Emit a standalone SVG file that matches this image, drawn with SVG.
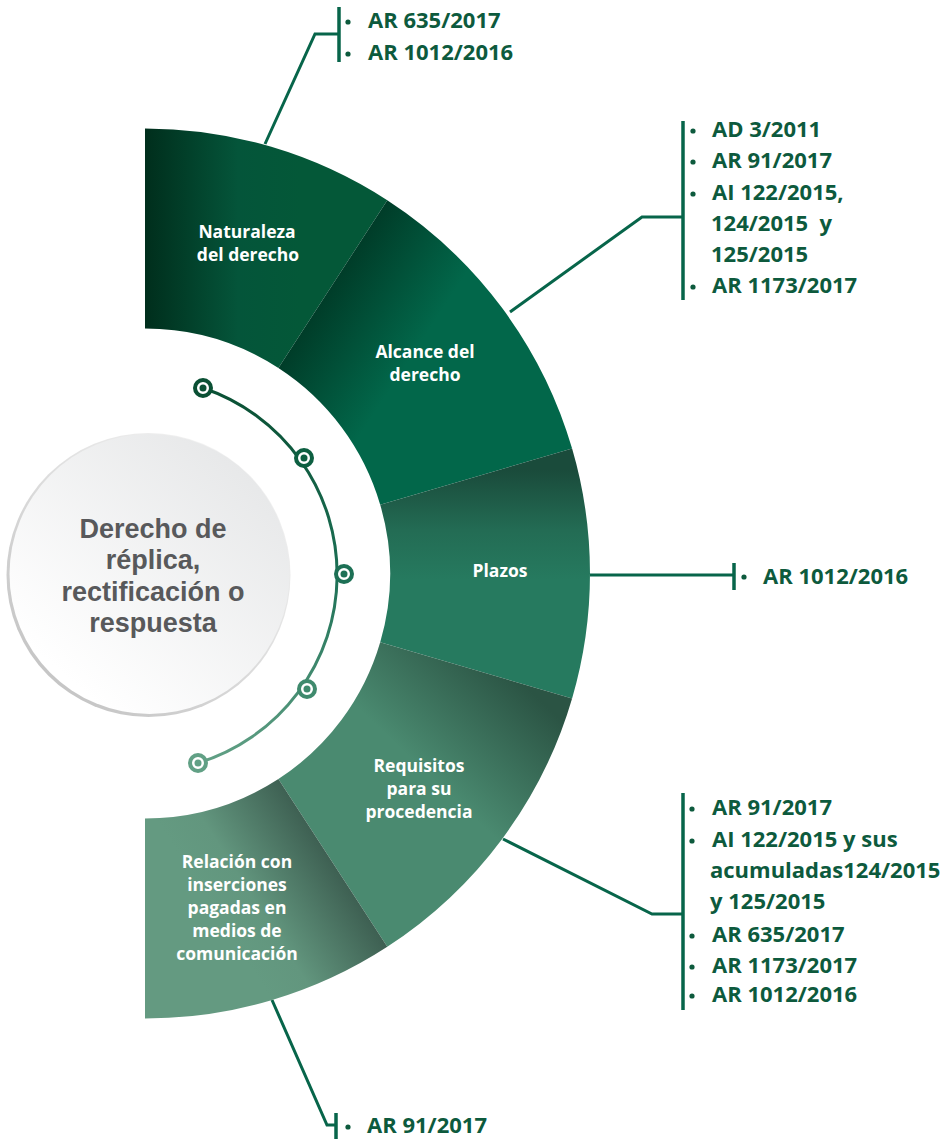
<svg xmlns="http://www.w3.org/2000/svg" width="947" height="1139" viewBox="0 0 947 1139">
<defs>
<style>
.lbl{font-family:"Open Sans","Liberation Sans",sans-serif;font-weight:700;font-size:17.5px;fill:#ffffff;text-anchor:middle}
.ref{font-family:"Open Sans","Liberation Sans",sans-serif;font-weight:700;font-size:22px;fill:#0d5a3d}
.title{font-family:"Liberation Sans","Open Sans",sans-serif;font-weight:700;font-size:27px;fill:#58595b;text-anchor:middle}
.conn{fill:none;stroke:#07654a;stroke-width:3}
.bar{fill:none;stroke:#07654a;stroke-width:3.5}
.bul{fill:#0d5a3d}
</style>
<linearGradient id="gNat" gradientUnits="userSpaceOnUse" x1="145" y1="250" x2="300" y2="250">
<stop offset="0" stop-color="#002e1c"/><stop offset="0.6" stop-color="#04553a"/><stop offset="1" stop-color="#045838"/>
</linearGradient>
<linearGradient id="gAlc" gradientUnits="userSpaceOnUse" x1="330" y1="285" x2="420" y2="344">
<stop offset="0" stop-color="#003c28"/><stop offset="1" stop-color="#02674a"/>
</linearGradient>
<linearGradient id="gPla" gradientUnits="userSpaceOnUse" x1="480" y1="470" x2="480" y2="580">
<stop offset="0" stop-color="#1a4b3b"/><stop offset="0.55" stop-color="#236c54"/><stop offset="1" stop-color="#267a5f"/>
</linearGradient>
<linearGradient id="gReq" gradientUnits="userSpaceOnUse" x1="545" y1="705" x2="455" y2="800">
<stop offset="0" stop-color="#2b5444"/><stop offset="1" stop-color="#4a8a70"/>
</linearGradient>
<linearGradient id="gRel" gradientUnits="userSpaceOnUse" x1="340" y1="865" x2="230" y2="935">
<stop offset="0" stop-color="#3c5d50"/><stop offset="0.7" stop-color="#62967e"/><stop offset="1" stop-color="#649a81"/>
</linearGradient>
<linearGradient id="gArc" gradientUnits="userSpaceOnUse" x1="0" y1="388" x2="0" y2="763">
<stop offset="0" stop-color="#0a5034"/><stop offset="0.5" stop-color="#1c7055"/><stop offset="1" stop-color="#61a085"/>
</linearGradient>
<linearGradient id="gCirRim" gradientUnits="userSpaceOnUse" x1="50" y1="690" x2="250" y2="460">
<stop offset="0" stop-color="#c4c4c4"/><stop offset="1" stop-color="#f4f4f4"/>
</linearGradient>
<linearGradient id="gCir" gradientUnits="userSpaceOnUse" x1="70" y1="680" x2="250" y2="470">
<stop offset="0" stop-color="#ffffff"/><stop offset="1" stop-color="#e7e8e9"/>
</linearGradient>
</defs>
<rect width="947" height="1139" fill="#ffffff"/>

<g id="connectors">
<path class="conn" d="M265,144 L315,34 L339,34"/>
<path class="bar" d="M339,7 V62"/>
<path class="conn" d="M510,312 L642,217 L683,217"/>
<path class="bar" d="M683,121 V300"/>
<path class="conn" d="M590,575 L734,575"/>
<path class="bar" d="M734,563 V590"/>
<path class="conn" d="M503,839 L652,914 L683,914"/>
<path class="bar" d="M683,793 V1010"/>
<path class="conn" d="M272,1000 L327,1125 L336,1125"/>
<path class="bar" d="M336,1113 V1139"/>
</g>

<g id="seg-naturaleza">
<path d="M145,128.5 A445,445 0 0 1 387.3,200.3 L278.4,368 A245,245 0 0 0 145,328.5 Z" fill="url(#gNat)"/>
<text class="lbl" x="247" y="238">Naturaleza</text>
<text class="lbl" x="248" y="261">del derecho</text>
</g>
<g id="seg-alcance">
<path d="M387.3,200.3 A445,445 0 0 1 572.1,448.6 L380.2,504.7 A245,245 0 0 0 278.4,368 Z" fill="url(#gAlc)"/>
<text class="lbl" x="425" y="358">Alcance del</text>
<text class="lbl" x="425" y="381">derecho</text>
</g>
<g id="seg-plazos">
<path d="M572.1,448.6 A445,445 0 0 1 572.1,698.4 L380.2,642.3 A245,245 0 0 0 380.2,504.7 Z" fill="url(#gPla)"/>
<text class="lbl" x="500" y="577">Plazos</text>
</g>
<g id="seg-requisitos">
<path d="M572.1,698.4 A445,445 0 0 1 387.3,946.7 L278.4,779 A245,245 0 0 0 380.2,642.3 Z" fill="url(#gReq)"/>
<text class="lbl" x="419" y="772">Requisitos</text>
<text class="lbl" x="419" y="795">para su</text>
<text class="lbl" x="419" y="818">procedencia</text>
</g>
<g id="seg-relacion">
<path d="M387.3,946.7 A445,445 0 0 1 145,1018.5 L145,818.5 A245,245 0 0 0 278.4,779 Z" fill="url(#gRel)"/>
<text class="lbl" x="237" y="868">Relación con</text>
<text class="lbl" x="237" y="891">inserciones</text>
<text class="lbl" x="237" y="914">pagadas en</text>
<text class="lbl" x="237" y="937">medios de</text>
<text class="lbl" x="237" y="960">comunicación</text>
</g>

<g id="center">
<circle cx="148.5" cy="575" r="142" fill="url(#gCirRim)"/>
<circle cx="149.5" cy="574" r="140" fill="url(#gCir)"/>
<text class="title" x="153" y="538">Derecho de</text>
<text class="title" x="153" y="569">réplica,</text>
<text class="title" x="153" y="601">rectificación o</text>
<text class="title" x="153" y="632">respuesta</text>
</g>

<g id="timeline">
<path d="M203,388 A197,197 0 0 1 198,763" fill="none" stroke="url(#gArc)" stroke-width="3"/>
<g stroke-width="4" fill="#ffffff">
<circle cx="203" cy="388" r="8" stroke="#0a5034"/>
<circle cx="304" cy="458" r="8" stroke="#0d5f41"/>
<circle cx="344" cy="574" r="8" stroke="#1d7055"/>
<circle cx="307" cy="689" r="8" stroke="#3f8a6d"/>
<circle cx="198" cy="763" r="8" stroke="#61a085"/>
</g>
<circle cx="203" cy="388" r="3.5" fill="#0a5034"/>
<circle cx="304" cy="458" r="3.5" fill="#0d5f41"/>
<circle cx="344" cy="574" r="3.5" fill="#1d7055"/>
<circle cx="307" cy="689" r="3.5" fill="#3f8a6d"/>
<circle cx="198" cy="763" r="3.5" fill="#61a085"/>
</g>

<g id="refs-naturaleza">
<circle class="bul" cx="348" cy="22" r="2.6"/>
<circle class="bul" cx="348" cy="54" r="2.6"/>
<text class="ref" x="368" y="28">AR 635/2017</text>
<text class="ref" x="368" y="60">AR 1012/2016</text>
</g>
<g id="refs-alcance">
<circle class="bul" cx="693" cy="131" r="2.6"/>
<circle class="bul" cx="693" cy="162" r="2.6"/>
<circle class="bul" cx="693" cy="194" r="2.6"/>
<circle class="bul" cx="693" cy="287" r="2.6"/>
<text class="ref" x="712" y="137">AD 3/2011</text>
<text class="ref" x="712" y="168">AR 91/2017</text>
<text class="ref" x="712" y="200">AI 122/2015,</text>
<text class="ref" x="711" y="231" xml:space="preserve">124/2015  y</text>
<text class="ref" x="711" y="262">125/2015</text>
<text class="ref" x="712" y="293">AR 1173/2017</text>
</g>
<g id="refs-plazos">
<circle class="bul" cx="744" cy="577" r="2.6"/>
<text class="ref" x="763" y="584">AR 1012/2016</text>
</g>
<g id="refs-requisitos">
<circle class="bul" cx="692" cy="809" r="2.6"/>
<circle class="bul" cx="692" cy="841" r="2.6"/>
<circle class="bul" cx="692" cy="936" r="2.6"/>
<circle class="bul" cx="692" cy="967" r="2.6"/>
<circle class="bul" cx="692" cy="996" r="2.6"/>
<text class="ref" x="712" y="815">AR 91/2017</text>
<text class="ref" x="712" y="847">AI 122/2015 y sus</text>
<text class="ref" x="710" y="878">acumuladas124/2015</text>
<text class="ref" x="710" y="909">y 125/2015</text>
<text class="ref" x="712" y="942">AR 635/2017</text>
<text class="ref" x="712" y="973">AR 1173/2017</text>
<text class="ref" x="712" y="1002">AR 1012/2016</text>
</g>
<g id="refs-relacion">
<circle class="bul" cx="348" cy="1127" r="2.6"/>
<text class="ref" x="367" y="1133">AR 91/2017</text>
</g>
</svg>
